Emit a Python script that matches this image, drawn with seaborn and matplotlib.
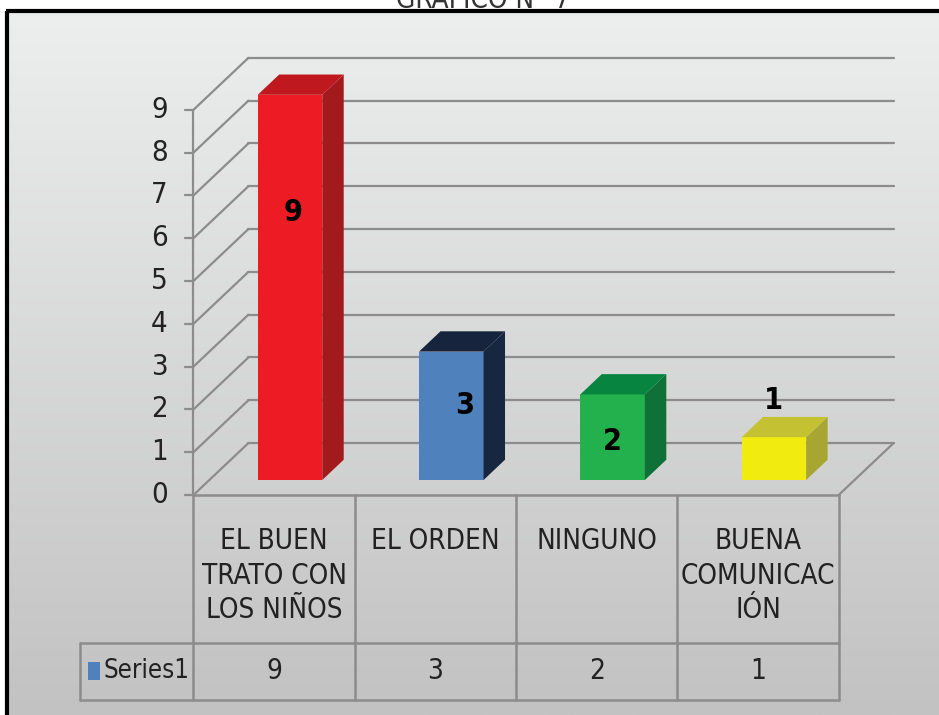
import numpy as np
import matplotlib
matplotlib.use("Agg")
import matplotlib.pyplot as plt
from matplotlib import font_manager
from matplotlib.colors import LinearSegmentedColormap
from matplotlib.patches import Polygon, Rectangle
import seaborn as sns

# --- data ---
categories = ["EL BUEN TRATO CON LOS NIÑOS", "EL ORDEN", "NINGUNO", "BUENA COMUNICACIÓN"]
tick_labels = ["EL BUEN\nTRATO CON\nLOS NIÑOS", "EL ORDEN", "NINGUNO", "BUENA\nCOMUNICAC\nIÓN"]
values = [9, 3, 2, 1]
series_name = "Series1"
y_ticks = list(range(0, 10))
title = "GRÁFICO N° 7"

# --- style ---
front_colors = ["#ED1C24", "#4F81BD", "#22B14C", "#F2EB10"]
side_colors = ["#A31A1E", "#17273F", "#0F7038", "#A8A632"]
top_colors = ["#C0181F", "#16243D", "#078540", "#C4C232"]
grid_color = "#8C8C8C"
text_color = "#222222"
label_dx = [0.02, 0.085, 0.0, 0.0]      # value label placement (bar units)
label_y = [6.26, 1.73, 0.91, 1.85]

sns.set_style("white")

# look for a narrow face (Calibri-like look), otherwise shrink Liberation Sans
narrow = [f for f in font_manager.fontManager.ttflist
          if ("Narrow" in f.name or "Condensed" in f.name
              or f.stretch in ("condensed", "semi-condensed"))
          and f.style == "normal"]
narrow_reg = [f for f in narrow if f.weight in (400, "normal", "regular", "book")]
narrow_bold = [f for f in narrow if f.weight in (700, "bold")]
if narrow_reg:
    main_font = font_manager.FontProperties(fname=narrow_reg[0].fname)
    bold_font = font_manager.FontProperties(
        fname=(narrow_bold[0].fname if narrow_bold else narrow_reg[0].fname),
        weight="bold")
    scale = 1.0
else:
    main_font = font_manager.FontProperties(family="Liberation Sans")
    bold_font = font_manager.FontProperties(family="Liberation Sans", weight="bold")
    scale = 0.84
plt.rcParams["font.family"] = ["Liberation Sans", "DejaVu Sans"]

W, H = 939, 715
SX, SY = 161.3, 42.8          # px per category / per value unit
X0, Y0 = 290, 480             # px of first bar front face (centre, bottom)
DX, DY = 55 / SX, 52 / SY     # full depth offset in data units
T0, T1 = 0.29, 0.68           # depth of bar front / back face


def proj(x, v, t):
    """front-plane coords at depth t -> axes data coords"""
    return x + (t - T0) * DX, v + (t - T0) * DY


def txt(x, y, s, size, bold=False, **kw):
    fp = (bold_font if bold else main_font).copy()
    fp.set_size(size * scale)
    ax.text(x, y, s, fontproperties=fp, **kw)


fig = plt.figure(figsize=(W / 100, H / 100), dpi=100)
fig.patch.set_facecolor("white")

# background gradient + frame
bg = fig.add_axes([0, 0, 1, 1])
bg.set_xlim(0, W); bg.set_ylim(H, 0); bg.axis("off")
grad = np.linspace(0, 1, 256).reshape(-1, 1)
cmap = LinearSegmentedColormap.from_list("bg", ["#EDEEEE", "#C2C2C2"])
bg.imshow(grad, extent=(7, W, H, 11), cmap=cmap, aspect="auto")
bg.plot([6, W], [11, 11], color="black", lw=3, solid_capstyle="butt")
bg.plot([7, 7], [11, H], color="black", lw=3, solid_capstyle="butt")

# title sits above the frame and is mostly cropped, as in the original
tfp = main_font.copy(); tfp.set_size(20 * scale)
fig.text(483 / W, 1 - 8 / H, title, ha="center", va="baseline",
         fontproperties=tfp, color="#333333")

# main axes, data coords matched to the picture
ax = fig.add_axes([0, 0, 1, 1])
ax.patch.set_alpha(0)
sns.barplot(x=categories, y=values, hue=categories, order=categories,
            hue_order=categories, palette=front_colors, saturation=1,
            width=0.4, errorbar=None, legend=False, linewidth=0,
            zorder=3, ax=ax)
ax.set_xlim(-X0 / SX, (W - X0) / SX)
ax.set_ylim((Y0 - H) / SY, Y0 / SY)
ax.axis("off")

left, right = -0.5, len(categories) - 0.5
gkw = dict(color=grid_color, lw=1.6, zorder=1, solid_capstyle="round")

# back wall, left wall, ticks
for v in y_ticks:
    ax.plot(*zip(proj(left, v, 1), proj(right, v, 1)), **gkw)
    ax.plot(*zip(proj(left, v, 0), proj(left, v, 1)), **gkw)
    ax.plot(*zip(proj(left - 0.05, v, 0), proj(left, v, 0)), **gkw)
    tx, ty = proj(left - 0.16, v, 0)
    txt(tx, ty, str(v), 21, ha="right", va="center", color=text_color)
ax.plot(*zip(proj(left, 0, 0), proj(left, max(y_ticks), 0)), **gkw)
ax.plot(*zip(proj(right, 0, 0), proj(right, 0, 1)), **gkw)

# 3D sides and tops from the seaborn bars
d = T1 - T0
for p, sc, tc in zip(ax.patches, side_colors, top_colors):
    x0, w, h = p.get_x(), p.get_width(), p.get_height()
    xr = x0 + w
    side = [(xr, 0), (xr, h), (xr + d * DX, h + d * DY), (xr + d * DX, d * DY)]
    top = [(x0, h), (xr, h), (xr + d * DX, h + d * DY), (x0 + d * DX, h + d * DY)]
    ax.add_patch(Polygon(side, closed=True, facecolor=sc, edgecolor="none", zorder=3))
    ax.add_patch(Polygon(top, closed=True, facecolor=tc, edgecolor="none", zorder=3))

for i, v in enumerate(values):
    txt(i + label_dx[i], label_y[i], str(v), 22, bold=True,
        ha="center", va="center", color="black", zorder=5)

# data table under the floor
row1, row2 = -3.46, -4.79
head = -1.203
tkw = dict(color=grid_color, lw=1.8, zorder=1)
ax.plot(*zip(proj(left, 0, 0), proj(right, 0, 0)), **tkw)
for r in (row1, row2):
    ax.plot(*zip(proj(head, r, 0), proj(right, r, 0)), **tkw)
for xb in np.arange(left, right + 0.01, 1.0):
    ax.plot(*zip(proj(xb, 0, 0), proj(xb, row2, 0)), **tkw)
ax.plot(*zip(proj(head, row1, 0), proj(head, row2, 0)), **tkw)

for i, (lab, v) in enumerate(zip(tick_labels, values)):
    lx, ly = proj(i, -0.75, 0)
    txt(lx, ly, lab, 20, ha="center", va="top", linespacing=1.3, color=text_color)
    vx, vy = proj(i, -4.11, 0)
    txt(vx, vy, str(v), 20, ha="center", va="center", color=text_color)

sx, sy = proj(-1.153, -4.32, 0)
ax.add_patch(Rectangle((sx, sy), 0.074, 0.42, facecolor="#4F81BD", edgecolor="none"))
nx, ny = proj(-1.055, -4.11, 0)
txt(nx, ny, series_name, 18.5, ha="left", va="center", color=text_color)

fig.savefig("out.png", dpi=100)
